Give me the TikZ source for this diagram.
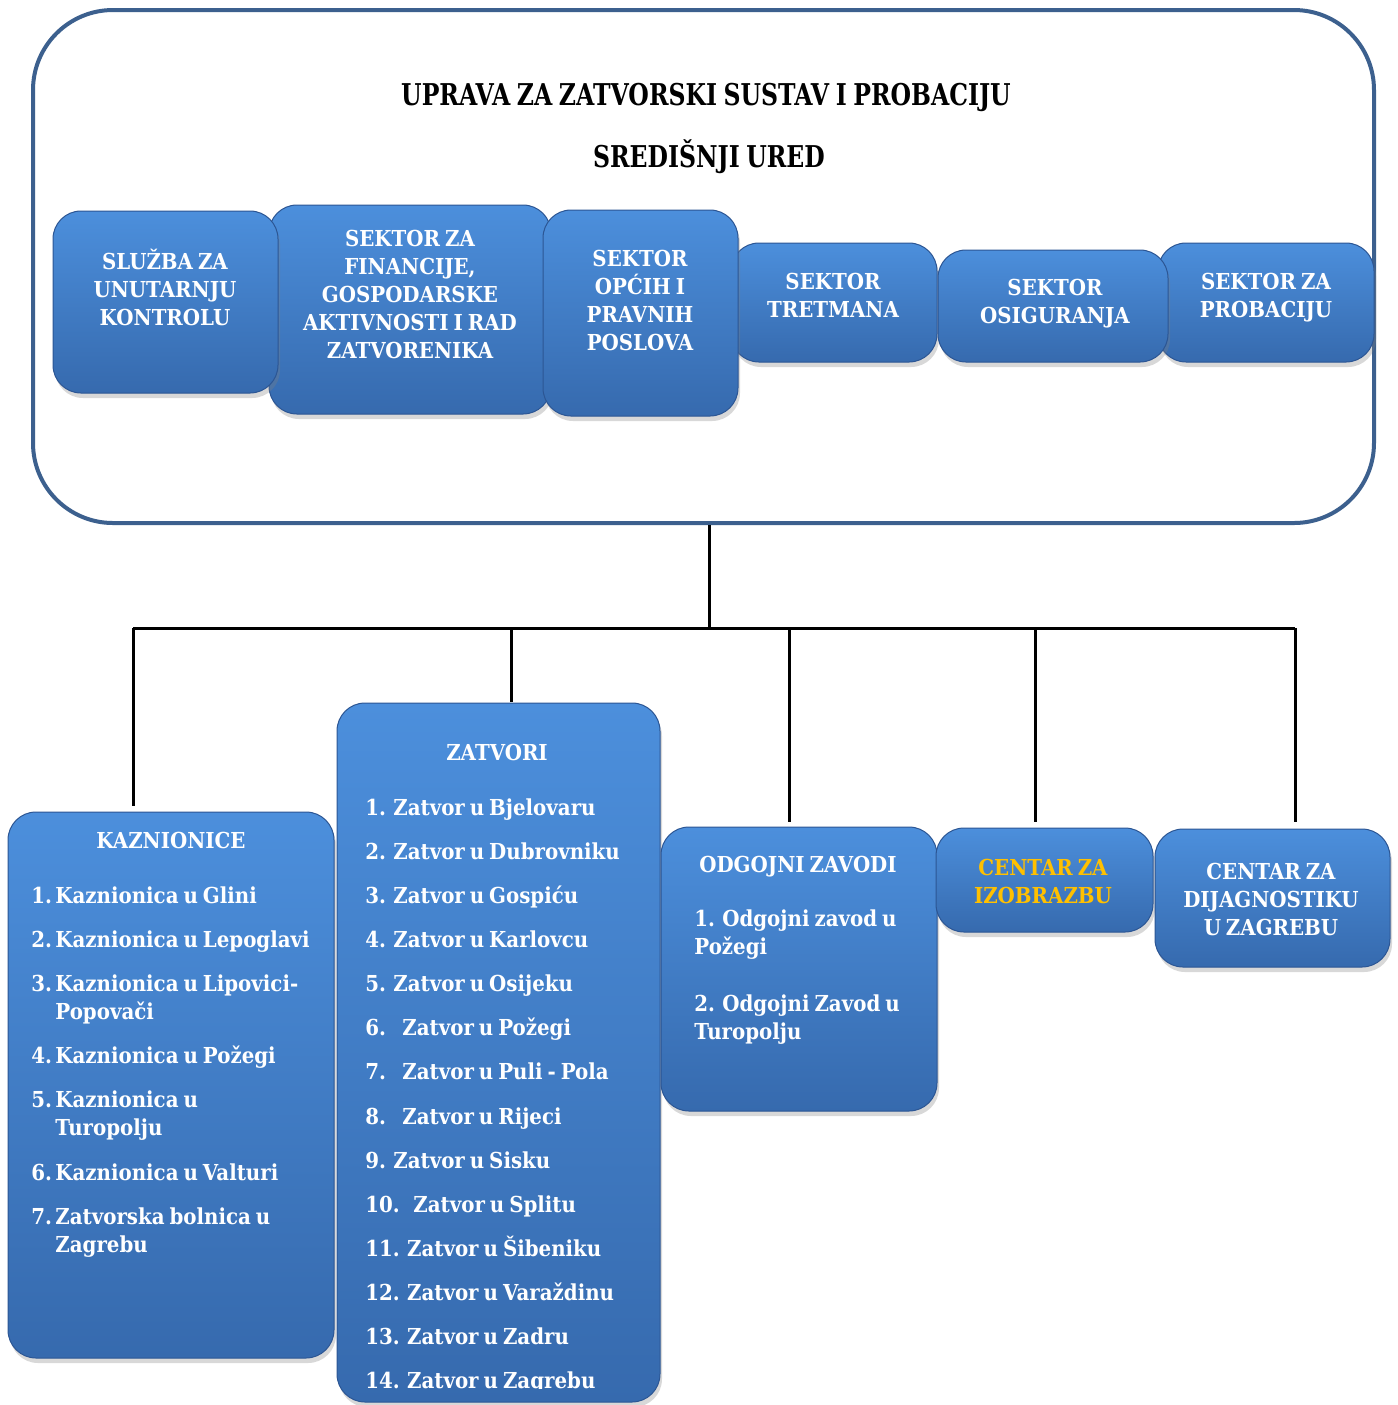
\documentclass[tikz,border=0pt]{standalone}
\usepackage{fontspec}
\setmainfont{DejaVu Serif}[FakeStretch=0.9, WordSpace=0.72]
\newfontfamily\titlefont{DejaVu Serif}[FakeStretch=0.785, WordSpace=0.8]
\usetikzlibrary{shadows,fit}
\definecolor{btop}{RGB}{76,143,220}
\definecolor{bbot}{RGB}{54,106,174}
\definecolor{bedge}{RGB}{44,86,148}
\definecolor{outerc}{RGB}{60,96,142}
\definecolor{gold}{RGB}{255,192,0}
\newcommand\clines[5]{% style, prefix, x, first baseline, list
  \foreach \t [count=\i from 0] in {#5} {\node[#1] (#2\i) at (#3,{#4+28*\i}) {\t};}}
\begin{document}
\begin{tikzpicture}[x=0.5pt,y=-0.5pt,
  bluebox/.style={rounded corners=14pt, top color=btop, bottom color=bbot, draw=bedge,
    line width=0.5pt, inner sep=0pt,
    drop shadow={opacity=0.3, shadow xshift=1pt, shadow yshift=-2.5pt}},
  outerbox/.style={rounded corners=40pt, draw=outerc, line width=2pt, inner sep=0pt},
  hd/.style={text=white, font=\bfseries\fontsize{11}{13}\selectfont, anchor=base, inner sep=0pt},
  hdgold/.style={hd, text=gold},
  itm/.style={text=white, font=\bfseries\fontsize{11}{13}\selectfont, anchor=base west, inner sep=0pt},
  ttl/.style={font=\titlefont\bfseries\fontsize{15}{18}\selectfont, anchor=base, inner sep=0pt},
  conn/.style={line width=1.5pt, black}]
\useasboundingbox (0,0) rectangle (1398,1405);
\fill[white] (0,0) rectangle (1398,1405);

% outer frame
\node[outerbox, fit={(33,10) (1374,523)}] (outer) {};
\node[ttl] (title1) at (706,105) {UPRAVA ZA ZATVORSKI SUSTAV I PROBACIJU};
\node[ttl] (title2) at (709,167) {SREDIŠNJI URED};

% top boxes
\node[bluebox, fit={(269,205) (551,414)}] (b2) {};
\node[bluebox, fit={(53,211) (278,393)}] (b1) {};
\node[bluebox, fit={(731,243) (937,362)}] (b4) {};
\node[bluebox, fit={(543,210) (738,416)}] (b3) {};
\node[bluebox, fit={(1158,243) (1374,362)}] (b6) {};
\node[bluebox, fit={(938,250) (1168,362)}] (b5) {};

\clines{hd}{tb1-}{165}{269}{SLUŽBA ZA, UNUTARNJU, KONTROLU}
\clines{hd}{tb2-}{410}{246}{SEKTOR ZA, {FINANCIJE,}, GOSPODARSKE, AKTIVNOSTI I RAD, ZATVORENIKA}
\clines{hd}{tb3-}{640}{266}{SEKTOR, OPĆIH I, PRAVNIH, POSLOVA}
\clines{hd}{tb4-}{833}{289}{SEKTOR, TRETMANA}
\clines{hd}{tb5-}{1055}{295}{SEKTOR, OSIGURANJA}
\clines{hd}{tb6-}{1266}{289}{SEKTOR ZA, PROBACIJU}

% bottom boxes
\node[bluebox, fit={(8,812) (334,1358)}] (kaz) {};
\node[bluebox, fit={(337,703) (660,1402)}] (zat) {};
\node[bluebox, fit={(661,827) (937,1111)}] (odg) {};
\node[bluebox, fit={(936,828) (1153,932)}] (izo) {};
\node[bluebox, fit={(1155,829) (1390,967)}] (dij) {};

% connectors
\coordinate (bus) at (709,628);
\coordinate (busL) at (133,628);
\coordinate (busR) at (1295,628);
\coordinate (t2) at (511,628);
\coordinate (t3) at (789,628);
\coordinate (t4) at (1035,628);
\draw[conn] (bus |- outer.south) -- (bus);
\draw[conn] (busL) -- (busR);
\draw[conn] (busL) -- ([yshift=3pt]busL |- kaz.north);
\draw[conn] (t2) -- ([yshift=0.5pt]t2 |- zat.north);
\draw[conn] (t3) -- ([yshift=2.5pt]t3 |- odg.north);
\draw[conn] (t4) -- ([yshift=3pt]t4 |- izo.north);
\draw[conn] (busR) -- ([yshift=3.5pt]busR |- dij.north);

% KAZNIONICE
\node[hd] (kazT) at (171,848) {KAZNIONICE};
\foreach \n/\y/\t [count=\i] in {1./903/Kaznionica u Glini, 2./947/Kaznionica u Lepoglavi,
   3./991/Kaznionica u Lipovici-, /1019/Popovači, 4./1063/Kaznionica u Požegi,
   5./1107/Kaznionica u, /1135/Turopolju, 6./1180/Kaznionica u Valturi,
   7./1224/Zatvorska bolnica u, /1252/Zagrebu}
  {\node[itm] (kn\i) at (31,\y) {\n};
   \node[itm] (kt\i) at (55,\y) {\t};}

% ZATVORI
\node[hd] (zatT) at (497,760) {ZATVORI};
\begin{scope}
\clip (337,703) rectangle (660,1388);
\foreach \t [count=\i from 0] in {1. Zatvor u Bjelovaru, 2. Zatvor u Dubrovniku,
   3. Zatvor u Gospiću, 4. Zatvor u Karlovcu, 5. Zatvor u Osijeku,
   \makebox[18.5pt][l]{6.}Zatvor u Požegi, \makebox[18.5pt][l]{7.}Zatvor u Puli - Pola,
   \makebox[18.5pt][l]{8.}Zatvor u Rijeci, 9. Zatvor u Sisku,
   \makebox[24pt][l]{10.}Zatvor u Splitu, 11. Zatvor u Šibeniku,
   12. Zatvor u Varaždinu, 13. Zatvor u Zadru, 14. Zatvor u Zagrebu}
  {\node[itm] (zt\i) at (365,{815+44.15*\i}) {\t};}
\end{scope}

% ODGOJNI ZAVODI
\node[hd] (odgT) at (798,872) {ODGOJNI ZAVODI};
\node[itm] (od1) at (694,926) {1. Odgojni zavod u};
\node[itm] (od2) at (694,954) {Požegi};
\node[itm] (od3) at (694,1011) {2. Odgojni Zavod u};
\node[itm] (od4) at (694,1039) {Turopolju};

% CENTRI
\clines{hdgold}{ti-}{1043}{875}{CENTAR ZA, IZOBRAZBU}
\clines{hd}{td-}{1271}{879}{CENTAR ZA, DIJAGNOSTIKU, U ZAGREBU}
\end{tikzpicture}
\end{document}
